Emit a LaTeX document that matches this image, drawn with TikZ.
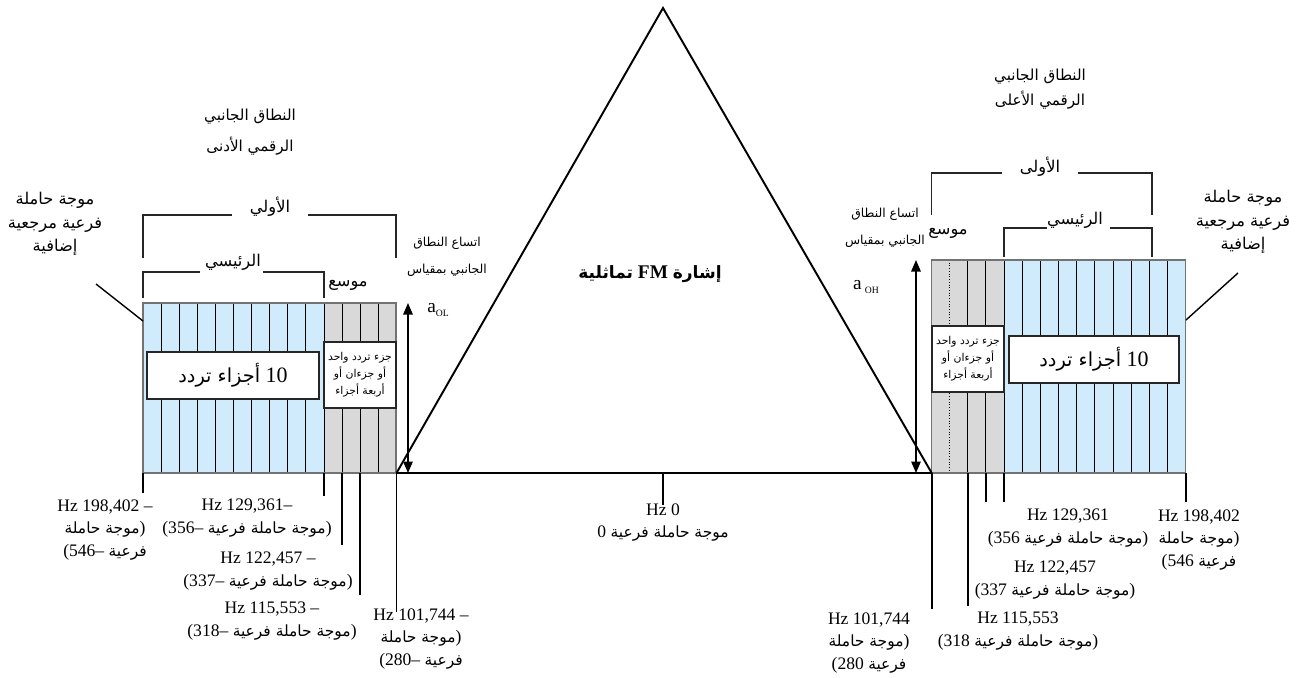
\documentclass[tikz,border=0pt]{standalone}
\usepackage{fontspec}
\setmainfont{Liberation Serif}
\newfontfamily\arabicfont[Script=Arabic,Scale=0.88]{DejaVu Sans}
\TeXXeTstate=1
\usetikzlibrary{arrows.meta}
\definecolor{cblue}{HTML}{D0EBFB}
\definecolor{cgrey}{HTML}{D9D9D9}
\newcommand\artxt[1]{{\arabicfont\beginR #1\endR}}
\tikzset{
  cell/.style={draw=black,line width=0.55pt},
  frame/.style={draw=black!55,line width=0.6pt},
  brk/.style={draw=black!85,line width=0.8pt},
  tick/.style={draw=black,line width=1.1pt},
  sig/.style={draw=black,line width=1.1pt,line join=miter},
  base/.style={draw=black,line width=1.4pt},
  tbox/.style={draw=black!85,fill=white,line width=0.7pt,inner sep=0pt,align=center},
  ampl/.style={{Triangle[length=2.3mm,width=1.9mm]}-{Triangle[length=2.3mm,width=1.9mm]},line width=0.8pt},
  lbl/.style={font=\fontsize{10}{12.8}\selectfont,align=center,inner sep=0pt,anchor=north},
  atxt/.style={font=\fontsize{10.5}{13.5}\selectfont,align=center,inner sep=0pt},
  stxt/.style={font=\fontsize{8}{15.5}\selectfont,align=center,inner sep=0pt},
}
\begin{document}
\begin{tikzpicture}[x=0.02cm,y=-0.02cm]
\useasboundingbox (0,0) rectangle (1306,677);
% lower digital sideband
\fill[cblue] (143,303) rectangle (324,473);
\fill[cgrey] (324,303) rectangle (396,473);
\foreach \i in {1,...,10}
  \draw[cell] ({143+\i*18.1},303) -- ++(0,170);
\foreach \j in {1,2,3}
  \draw[cell] ({324+\j*18.05},303) -- ++(0,170);
\draw[frame] (143,303) rectangle (396,473);
% upper digital sideband
\fill[cgrey] (931.7,260) rectangle (1004,473);
\fill[cblue] (1004,260) rectangle (1185.7,473);
\draw[cell,densely dotted] (949.8,260) -- ++(0,213);
\foreach \j in {2,3,4}
  \draw[cell] ({931.7+\j*18.08},260) -- ++(0,213);
\foreach \i in {1,...,9}
  \draw[cell] ({1004+\i*18.17},260) -- ++(0,213);
\draw[frame] (931.7,260) rectangle (1185.7,473);
% analogue FM signal
\coordinate (apex) at (663,8);
\coordinate (lowEdge) at (396.5,473);
\coordinate (upEdge) at (931.7,473);
\draw[sig] (lowEdge) -- (apex) -- (upEdge);
\draw[base] (lowEdge) -- (upEdge);
\node[font=\fontsize{11}{13}\selectfont\bfseries,inner sep=0pt] (title) at (650,274) {\artxt{تماثلية} FM \artxt{إشارة}};
% frequency partitions
\node[tbox,minimum width=3.44cm,minimum height=0.94cm,font=\fontsize{12.5}{14}\selectfont] (lowTen) at (233,375.5) {\artxt{أجزاء تردد} 10};
\node[tbox,minimum width=1.44cm,minimum height=1.32cm,font=\fontsize{7}{9.6}\selectfont] (lowOne) at (360,375) {\artxt{جزء تردد واحد}\\\artxt{أو جزءان أو}\\\artxt{أربعة أجزاء}};
\node[tbox,minimum width=3.4cm,minimum height=0.94cm,font=\fontsize{12.5}{14}\selectfont] (upTen) at (1094,359.5) {\artxt{أجزاء تردد} 10};
\node[tbox,minimum width=1.44cm,minimum height=1.32cm,font=\fontsize{7}{9.6}\selectfont] (upOne) at (968,359) {\artxt{جزء تردد واحد}\\\artxt{أو جزءان أو}\\\artxt{أربعة أجزاء}};
% brackets
\draw[brk] (143,258) |- (232,215);
\draw[brk] (308,215) -| (396,258);
\node[atxt] (lowFirst) at (270,207) {\artxt{الأولي}};
\draw[brk] (143,298) |- (200,272);
\draw[brk] (263,272) -| (324,298);
\node[atxt] (lowMain) at (233,262) {\artxt{الرئيسي}};
\node[atxt] (lowExt) at (348,285) {\artxt{موسع}};
\draw[brk] (931.7,215) |- (1002,173);
\draw[brk] (1078,173) -| (1152,215);
\node[atxt] (upFirst) at (1040,167) {\artxt{الأولى}};
\draw[brk] (1004,257) |- (1047,228);
\draw[brk] (1110,228) -| (1152,257);
\node[atxt] (upMain) at (1075,220) {\artxt{الرئيسي}};
\node[atxt] (upExt) at (948,233) {\artxt{موسع}};
% headings
\node[atxt,font=\fontsize{9.8}{17.5}\selectfont] (lowHead) at (250,132) {\artxt{النطاق الجانبي}\\\artxt{الرقمي الأدنى}};
\node[atxt,font=\fontsize{9.8}{14.5}\selectfont] (upHead) at (1040,89) {\artxt{النطاق الجانبي}\\\artxt{الرقمي الأعلى}};
\node[atxt] (lowRef) at (55,224) {\artxt{موجة حاملة}\\\artxt{فرعية مرجعية}\\\artxt{إضافية}};
\node[atxt] (upRef) at (1243,222) {\artxt{موجة حاملة}\\\artxt{فرعية مرجعية}\\\artxt{إضافية}};
\coordinate (lowLead) at (96,284);
\coordinate (upLead) at (1238,273);
\draw[brk,black] (lowLead) -- (143,321);
\draw[brk,black] (upLead) -- (1186,320);
% sideband amplitude
\draw[ampl] (408,303) -- (408,473);
\draw[ampl] (916,260) -- (916,473);
\node[stxt] (lowWidth) at (447,257) {\artxt{اتساع النطاق}\\\artxt{الجانبي بمقياس}};
\node[stxt] (upWidth) at (885,228) {\artxt{اتساع النطاق}\\\artxt{الجانبي بمقياس}};
\node[font=\fontsize{11}{12}\selectfont,inner sep=0pt] (lowAmp) at (438,310) {a\raisebox{-0.45ex}{\fontsize{5.5}{6}\selectfont OL}};
\node[font=\fontsize{11}{12}\selectfont,inner sep=0pt] (upAmp) at (866,287) {a\,\raisebox{-0.45ex}{\fontsize{5.5}{6}\selectfont OH}};
% frequency ticks
\foreach \x/\y in {143/493,324/496,342/545,360/595,396.5/612,663/505,931.7/609,968/606,986/502,1004/502,1185.7/502}
  \draw[tick] (\x,473) -- (\x,\y);
% frequency labels
\node[lbl] (zero) at (663,503) {Hz 0\\0 \artxt{موجة حاملة فرعية}};
\node[lbl] (lowA) at (105,499) {Hz 198,402 –\\\artxt{موجة حاملة})\\(546– \artxt{فرعية}};
\node[lbl] (lowB) at (247,499) {Hz 129,361–\\(356– \artxt{موجة حاملة فرعية})};
\node[lbl] (lowC) at (268,552) {Hz 122,457 –\\(337– \artxt{موجة حاملة فرعية})};
\node[lbl] (lowD) at (272,602) {Hz 115,553 –\\(318– \artxt{موجة حاملة فرعية})};
\node[lbl] (lowE) at (421,608) {Hz 101,744 –\\\artxt{موجة حاملة})\\(280– \artxt{فرعية}};
\node[lbl] (upA) at (1068,509) {Hz 129,361\\(356 \artxt{موجة حاملة فرعية})};
\node[lbl] (upB) at (1199,509) {Hz 198,402\\\artxt{موجة حاملة})\\(546 \artxt{فرعية}};
\node[lbl] (upC) at (1055,561) {Hz 122,457\\(337 \artxt{موجة حاملة فرعية})};
\node[lbl] (upD) at (1018,612) {Hz 115,553\\(318 \artxt{موجة حاملة فرعية})};
\node[lbl] (upE) at (869,612) {Hz 101,744\\\artxt{موجة حاملة})\\(280 \artxt{فرعية}};
\end{tikzpicture}
\end{document}
